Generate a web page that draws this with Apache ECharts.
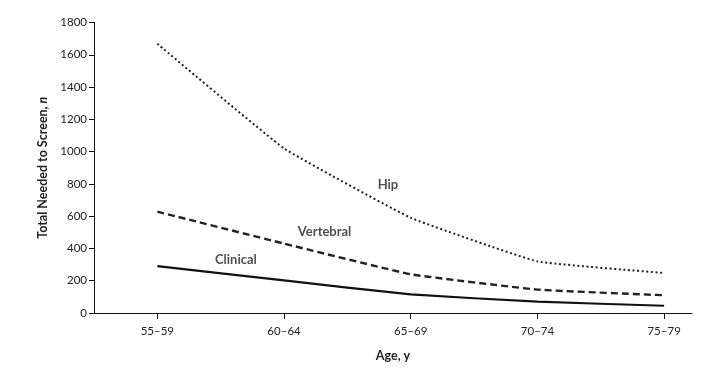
<!DOCTYPE html>
<html>
<head>
<meta charset="utf-8">
<script src="https://cdn.jsdelivr.net/npm/echarts@6/dist/echarts.min.js"></script>
<style>
html,body{margin:0;padding:0;background:#fff;}
#chart{width:726px;height:368px;}
</style>
</head>
<body>
<div id="chart"></div>
<script>
// Data
var categories = ['55\u201359', '60\u201364', '65\u201369', '70\u201374', '75\u201379'];
var hipValues = [1668, 1020, 590, 320, 248];
var vertebralValues = [628, 430, 240, 145, 110];
var clinicalValues = [290, 202, 115, 70, 45];
var yTicks = [0, 200, 400, 600, 800, 1000, 1200, 1400, 1600, 1800];
var seriesLabels = ['Hip', 'Vertebral', 'Clinical'];
var labelX = [1.82, 1.32, 0.62];
var labelY = [793, 502, 330];

function pairs(vals) { return vals.map(function (v, i) { return [i, v]; }); }

var FONT = 'Lato, "Open Sans", sans-serif';
var chart = echarts.init(document.getElementById('chart'), null, { renderer: 'canvas' });
var catIdx = categories.map(function (c, i) { return i; });

var option = {
  animation: false,
  backgroundColor: '#fff',
  grid: { left: 94, right: 34, top: 22.5, bottom: 55, containLabel: false },
  xAxis: {
    type: 'value',
    min: -0.5,
    max: 4.22,
    name: 'Age, y',
    nameLocation: 'middle',
    nameGap: 36,
    nameTextStyle: { fontFamily: FONT, fontSize: 12.5, color: '#222', fontWeight: 'bold' },
    axisLine: { show: true, onZero: false, lineStyle: { color: '#111', width: 1 } },
    axisTick: { show: true, customValues: catIdx, length: 6, lineStyle: { color: '#111' } },
    axisLabel: {
      customValues: catIdx,
      margin: 12,
      fontFamily: FONT, fontSize: 11.5, color: '#222',
      formatter: function (v) { return categories[Math.round(v)]; }
    },
    splitLine: { show: false }
  },
  yAxis: {
    type: 'value',
    min: 0,
    max: 1800,
    interval: 200,
    name: 'Total Needed to Screen, {i|n}',
    nameLocation: 'middle',
    nameGap: 44,
    nameRotate: 90,
    nameTextStyle: {
      fontFamily: FONT, fontSize: 12.5, color: '#222', fontWeight: 'bold',
      rich: { i: { fontFamily: FONT, fontSize: 12.5, fontStyle: 'italic', fontWeight: 'bold', color: '#222' } }
    },
    axisLine: { show: true, onZero: false, lineStyle: { color: '#111', width: 1 } },
    axisTick: { show: true, length: 5, lineStyle: { color: '#111' } },
    axisLabel: {
      margin: 7, fontFamily: FONT, fontSize: 11.5, color: '#222',
      formatter: function (v) { return yTicks.indexOf(v) >= 0 ? String(v) : ''; }
    },
    splitLine: { show: false }
  },
  series: [
    {
      name: 'Hip', type: 'line', data: pairs(hipValues), symbol: 'none', smooth: 0.1,
      lineStyle: { color: '#222', width: 2, type: [2, 2.6], cap: 'butt' }
    },
    {
      name: 'Vertebral', type: 'line', data: pairs(vertebralValues), symbol: 'none', smooth: 0.1,
      lineStyle: { color: '#222', width: 2.4, type: [7, 4], cap: 'butt' }
    },
    {
      name: 'Clinical', type: 'line', data: pairs(clinicalValues), symbol: 'none', smooth: 0.1,
      lineStyle: { color: '#111', width: 2.2, type: 'solid' }
    },
    {
      type: 'scatter', symbolSize: 1, itemStyle: { color: 'rgba(0,0,0,0)' },
      silent: true,
      data: seriesLabels.map(function (s, i) { return { value: [labelX[i], labelY[i]], name: s }; }),
      label: {
        show: true, position: 'inside',
        formatter: function (p) { return p.name; },
        fontFamily: FONT, fontSize: 13, fontWeight: 'bold', color: '#222'
      }
    }
  ]
};
chart.setOption(option);
</script>
</body>
</html>
